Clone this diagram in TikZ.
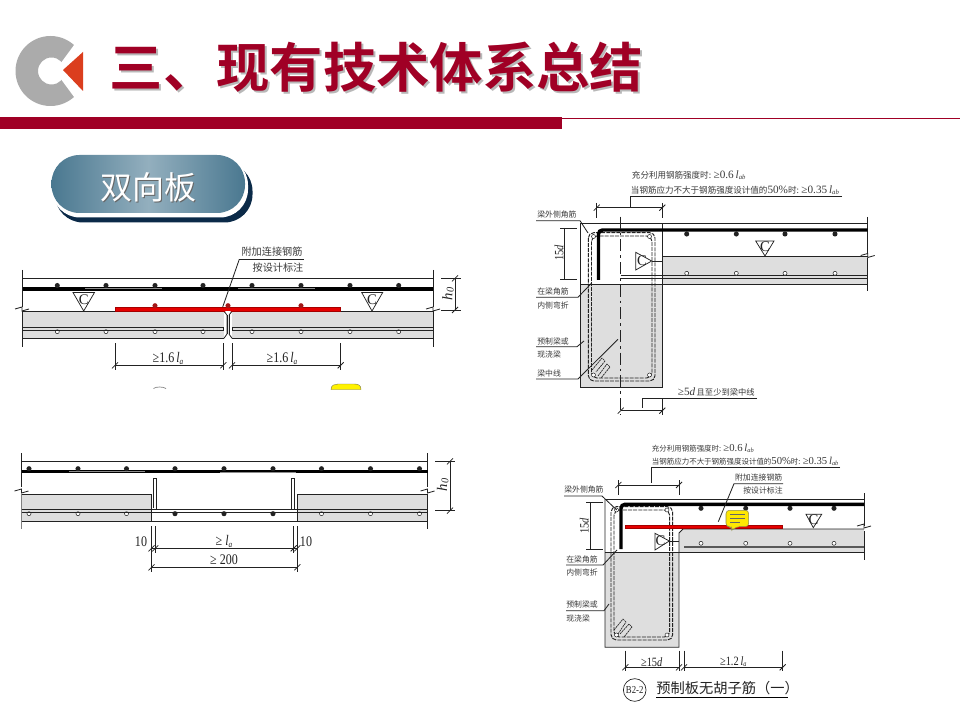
\documentclass[tikz,border=0pt]{standalone}
\usepackage{fontspec}
\setmainfont{Liberation Serif}
\newfontfamily\cjk{Noto Sans CJK SC}[BoldFont=* Bold]
\definecolor{brand}{HTML}{A00025}
\definecolor{slabgrey}{HTML}{DEDEDE}
\definecolor{ink}{HTML}{222222}
\definecolor{note}{HTML}{3A3A3A}
\definecolor{logogrey}{HTML}{ABABAB}
\definecolor{logored}{HTML}{DB3E1E}
\definecolor{navy}{HTML}{0B2A48}
\definecolor{pillout}{HTML}{4A7890}
\definecolor{pillin}{HTML}{93AFBE}
\newcommand{\la}{\textit{l}\raisebox{-.25ex}{\scalebox{.6}{\textit{a}}}}
\newcommand{\lab}{\textit{l}\raisebox{-.25ex}{\scalebox{.6}{\textit{ab}}}}
\newcommand{\nar}[1]{\scalebox{.82}[1]{#1}}
\newcommand{\Tk}[2]{\draw[dimln] (#1-3,#2+3)--(#1+3,#2-3);}
\newcommand{\Brk}[2]{\draw[thinln] (#1-7,#2)--(#1,#2-2)--(#1,#2+2)--(#1+7,#2);}
\newcommand{\Dim}[3]{\draw[dimln] (#1,#3)--(#2,#3); \Tk{#1}{#3} \Tk{#2}{#3}}
\tikzset{
  x=0.75pt,y=-0.75pt,
  thinln/.style={draw=ink,line width=.62pt},
  dimln/.style={draw=ink,line width=.55pt},
  heavy/.style={draw=black,line width=2.6pt},
  heavyred/.style={draw=black!35!red,fill=red!90!black,line width=.45pt},
  glint/.style={draw=white!55!black,line width=.35pt},
  rebar/.style={circle,fill=ink,draw=none,minimum size=3.8pt,inner sep=0},
  openbar/.style={circle,fill=white,draw=ink,line width=.38pt,minimum size=3pt,inner sep=0},
  redbar/.style={circle,fill=red!60!black!90!white,draw=none,minimum size=3.8pt,inner sep=0},
  stir/.style={draw=ink,line width=.7pt,dash pattern=on 3pt off .8pt,rounded corners=4pt},
  hookln/.style={draw=ink,line width=.5pt,dash pattern=on 1.6pt off .5pt},
  smallzh/.style={inner sep=0,text=note,font=\cjk\fontsize{5.9}{7}\selectfont},
  midzh/.style={inner sep=0,text=note,font=\cjk\fontsize{7.6}{9}\selectfont},
  latin/.style={inner sep=0,text=ink,font=\fontsize{11}{12}\selectfont},
  latins/.style={inner sep=0,text=ink,font=\fontsize{9.5}{10}\selectfont},
  tri/.style={draw=ink,fill=white,line width=.55pt},
  trilab/.style={inner sep=0,text=ink,font=\fontsize{11}{11}\selectfont},
}
\begin{document}
\begin{tikzpicture}
\useasboundingbox (0,0) rectangle (960,720);
\fill[white] (0,0) rectangle (960,720);

% ---------- header ----------
\fill[logogrey,even odd rule] (50.5,71) circle (35) (51.5,71) circle (13.5);
\fill[white] (55,71)--(80,37)--(100,37)--(100,105)--(80,105)--cycle;
\fill[logored] (63,70)--(83,52)--(83,91)--cycle;
\node[anchor=west,inner sep=0,text=black!28,font=\cjk\bfseries\fontsize{40}{44}\selectfont] (titleshadow) at (111.5,69.5) {三、现有技术体系总结};
\node[anchor=west,inner sep=0,text=brand,font=\cjk\bfseries\fontsize{40}{44}\selectfont] (title) at (109.5,67.5) {三、现有技术体系总结};
\fill[brand] (0,117) rectangle (562,129);
\draw[brand,line width=.6pt] (562,118)--(960,118);

% ---------- pill ----------
\fill[navy,rounded corners=21pt] (55,163) rectangle (252.5,222.5);
\fill[white,rounded corners=21pt] (52,157) rectangle (248,217.5);
\shade[left color=pillout,right color=pillout,middle color=pillin,rounded corners=21pt] (51.5,155) rectangle (245,213);
\node[inner sep=0,text=black!60,font=\cjk\fontsize{24}{28}\selectfont] (pillshadow) at (149,188.5) {双向板};
\node[inner sep=0,text=white,font=\cjk\fontsize{24}{28}\selectfont] (pill) at (148,187) {双向板};

% ---------- diagram 1 ----------
\fill[slabgrey] (22.5,311.3) rectangle (224,338.3);
\fill[slabgrey] (232,311.3) rectangle (433,338.3);
\draw[thinln] (22.5,270)--(22.5,307) (22.5,311)--(22.5,346.7);
\draw[thinln] (433,270)--(433,307) (433,311)--(433,346.7);
\draw[thinln] (22.5,278.3)--(433,278.3);
\draw[heavy] (22.5,289)--(433,289);
\draw[glint] (85,288)--(162,288) (238,288)--(315,288);
\foreach \px in {57.3,106,155,203,252,301,350,398.7} {
  \node[rebar] at (\px,285.5) {};
  \node[openbar] at (\px,331.7) {};
}
\draw[thinln] (22.5,311.3)--(224,311.3) (232,311.3)--(433,311.3);
\draw[thinln] (22.5,338.3)--(224,338.3) (232,338.3)--(433,338.3);
\draw[thinln] (22.5,327.3)--(223.3,327.3)--(223.3,330.3)--(22.5,330.3);
\draw[thinln] (433,327.3)--(232,327.3)--(232,330.3)--(433,330.3);
\draw[thinln] (224,311.3)--(227,315)--(227,334)--(224,338.3);
\draw[thinln] (232,311.3)--(229,315)--(229,334)--(232,338.3);
\fill[slabgrey] (227,315) rectangle (229,334);
\draw[thinln] (227,315)--(227,334) (229,315)--(229,334);
\Brk{22}{309}
\Brk{433}{309}
\draw[tri] (73,292.5)--(94.5,292.5)--(83.7,311)--cycle;
\draw[tri] (361.7,292.5)--(382.7,292.5)--(372,311)--cycle;
\node[trilab] (c1) at (83.7,299.5) {C};
\node[trilab] (c2) at (372,299.5) {C};
\draw[heavyred] (115,307.5) rectangle (340.7,310.8);
\foreach \px in {155,228,301} \node[redbar] at (\px,305.7) {};
\fill[white] (225,311)--(231,311)--(228,315)--cycle;
\draw[thinln] (239.3,259.3)--(304,259.3);
\draw[thinln] (239.3,259.3)--(222.7,307);
\node[midzh] (d1a) at (272,251.5) {附加连接钢筋};
\node[midzh] (d1b) at (278,268) {按设计标注};
\draw[dimln] (115,343)--(115,370) (223.3,343)--(223.3,370) (232,343)--(232,370) (340.7,343)--(340.7,370);
\Dim{115}{223.3}{365.3}
\Dim{232}{340.7}{365.3}
\node[latin] (d1c) at (168,358.5) {\nar{≥1.6\,\la}};
\node[latin] (d1d) at (282,358.5) {\nar{≥1.6\,\la}};
\draw[dimln] (441,278.3)--(461,278.3) (441,310)--(461,310);
\draw[dimln] (455,278.3)--(455,310);
\Tk{455}{278.3}
\Tk{455}{310}
\node[latin,rotate=90] (d1e) at (448,294) {\textit{h}\raisebox{-.2ex}{\scalebox{.7}{\textit{0}}}};
% cut-off remains at the bottom
\draw[gray,line width=.5pt] (153.5,388.5) .. controls (156,386.5) and (163,386.5) .. (166,388.5);
\fill[yellow,draw=yellow!40!black,line width=.3pt] (331,389.5) .. controls (331,385) and (335,384) .. (338,384) -- (354,384) .. controls (358,384) and (361,385) .. (361,389.5) -- cycle;

% ---------- diagram 2 ----------
\fill[slabgrey] (21.5,494.3) rectangle (151.5,521.3);
\fill[slabgrey] (297.3,494.3) rectangle (427.5,521.3);
\draw[line width=.9pt,draw=gray] (21.5,494.3)--(21.5,529.3);
\draw[thinln] (21.5,453)--(21.5,487) (427.5,453)--(427.5,487) (427.5,494)--(427.5,529.3);
\draw[thinln] (21.5,461.3)--(427.5,461.3);
\draw[heavy] (21.5,471.7)--(427.5,471.7);
\draw[glint] (69,471)--(145,471) (220,472)--(296,472);
\foreach \px in {29,78,126.5,175,224,273,321.5,370.5,419.5} \node[rebar] at (\px,468.7) {};
\foreach \px in {29,78,126.5,321.5,370.5,419.5} \node[openbar] at (\px,513.7) {};
\foreach \px in {175,224,273} \node[rebar] at (\px,513.7) {};
\draw[thinln] (21.5,494.3)--(151.5,494.3)--(151.5,521.3) (21.5,521.3)--(427.5,521.3) (297.3,521.3)--(297.3,494.3)--(427.5,494.3);
\draw[thinln] (21.5,509.3)--(427.5,509.3) (21.5,512.3)--(427.5,512.3);
\draw[thinln] (156.7,509.3)--(156.7,478.3)--(153.3,478.3)--(153.3,508) (291.3,509.3)--(291.3,478.3)--(294.7,478.3)--(294.7,509.3);
\Brk{21.5}{491}
\Brk{427.5}{491}
\draw[dimln] (151.5,526)--(151.5,572) (155.3,526)--(155.3,553) (293.7,526)--(293.7,553) (297.3,526)--(297.3,572);
\draw[dimln] (151.5,548.3)--(297.3,548.3);
\Tk{151.5}{548.3}\Tk{155.3}{548.3}\Tk{293.7}{548.3}\Tk{297.3}{548.3}
\Dim{151.5}{297.3}{567.3}
\node[latin] (d2a) at (141,541.5) {\nar{10}};
\node[latin] (d2b) at (224,541.5) {\nar{≥ \la}};
\node[latin] (d2c) at (306,541.5) {\nar{10}};
\node[latin] (d2d) at (224,560) {\nar{≥ 200}};
\draw[dimln] (435,461.3)--(455,461.3) (435,510.7)--(455,510.7);
\draw[dimln] (450,461.3)--(450,510.7);
\Tk{450}{461.3}\Tk{450}{510.7}
\node[latin,rotate=90] (d2e) at (442.7,485) {\textit{h}\raisebox{-.2ex}{\scalebox{.7}{\textit{0}}}};

% ---------- diagram 3 ----------
\fill[slabgrey] (662.3,256.7) rectangle (867.7,284);
\fill[slabgrey] (580,284) rectangle (662.3,387.7);
\draw[thinln] (580,387.7) rectangle (662.3,284);
\draw[thinln] (662.3,223.3)--(662.3,284);
\draw[thinln] (580,223.3)--(580,284);
\draw[thinln] (580,223.3)--(867.7,223.3);
\draw[thinln] (662.3,256.7)--(867.7,256.7) (580,284)--(867.7,284);
\draw[thinln] (867.7,217)--(867.7,254) (867.7,258)--(867.7,290.7);
\Brk{867.7}{255.5}
\draw[thinln] (620.7,275.7)--(867.7,275.7) (620.7,278.3)--(867.7,278.3);
\foreach \px in {686.7,736.3,785,835} {
  \node[rebar] at (\px,234) {};
  \node[openbar] at (\px,273.3) {};
}
\draw[stir] (588.3,232.7) rectangle (655,381);
\draw[stir] (591.5,236) rectangle (652,378);
\foreach \px/\py in {593.5/236.5,649.5/236.5,593.5/375,649.5/375} \node[openbar] at (\px,\py) {};
\draw[heavy,rounded corners=3pt] (867.7,230)--(598.5,230)--(598.5,280);
\draw[hookln] (592,370)--(602,358)--(605,361)--(596,372);
\draw[hookln] (598,376)--(607,364)--(610,367)--(601,378);
\draw[draw=ink,line width=.9pt,dash pattern=on 9pt off 3pt on 2pt off 3pt] (620.7,216.7)--(620.7,415);
\draw[tri] (635.7,252.3)--(635.7,270)--(651.7,261)--cycle;
\draw[thinln] (651.7,261)--(662.3,261);
\node[trilab] (c3) at (642,261) {C};
\draw[tri] (755.7,241)--(774,241)--(765,256)--cycle;
\node[trilab] (c4) at (765,246.5) {C};
\node[smallzh,font=\cjk\fontsize{6.4}{8}\selectfont,anchor=west] (d3a) at (631.7,175) {充分利用钢筋强度时: {\rmfamily\fontsize{8.4}{8}\selectfont ≥0.6\,\lab}};
\node[smallzh,font=\cjk\fontsize{6.4}{8}\selectfont,anchor=west] (d3b) at (630.7,190) {当钢筋应力不大于钢筋强度设计值的{\rmfamily\fontsize{8.4}{8}\selectfont 50\%}时: {\rmfamily\fontsize{8.4}{8}\selectfont ≥0.35\,\lab}};
\draw[thinln] (842,196.7)--(630,196.7)--(630,207.7);
\Dim{596.7}{662.3}{207.7}
\draw[dimln] (596.7,203)--(596.7,218) (662.3,203)--(662.3,218);
\node[smallzh,anchor=west] (d3c) at (537,215) {梁外侧角筋};
\draw[thinln] (536,220.7)--(580,220.7)--(588,233);
\draw[dimln] (560,228)--(577,228) (560,279.3)--(577,279.3) (564.3,228)--(564.3,279.3);
\node[latins,rotate=90] (d3d) at (559,253) {\nar{15\textit{d}}};
\node[smallzh,anchor=west] (d3e) at (537,291.7) {在梁角筋};
\node[smallzh,anchor=west] (d3f) at (537,305) {内侧弯折};
\draw[thinln] (536,297.3)--(578,297.3)--(591.7,283);
\node[smallzh,anchor=west] (d3g) at (537,341.7) {预制梁或};
\node[smallzh,anchor=west] (d3h) at (537,355) {现浇梁};
\draw[thinln] (536,346.7)--(577,346.7)--(584,341);
\node[smallzh,anchor=west] (d3i) at (537,373.3) {梁中线};
\draw[thinln] (536,379)--(578,379)--(618,339.3);
\node[smallzh,anchor=west,font=\cjk\fontsize{6.2}{8}\selectfont] (d3j) at (677.7,392.3) {{\rmfamily\fontsize{8.4}{8}\selectfont ≥5\textit{d}}\,且至少到梁中线};
\draw[thinln] (757,398.3)--(642.3,398.3)--(642.3,408.3);
\Dim{620.7}{662.3}{410.7}
\draw[dimln] (662.3,398)--(662.3,415);

% ---------- diagram 4 ----------
\fill[slabgrey] (683,529)--(864,529)--(864,552)--(679,552)--(679,533)--cycle;
\fill[slabgrey] (605,552) rectangle (679,647.3);
\draw[thinln] (605,499)--(605,647.3)--(679,647.3)--(679,533)--(683,529)--(864,529);
\draw[thinln] (605,499)--(864,499);
\draw[thinln] (605,552)--(864,552);
\draw[thinln] (864,493)--(864,526) (864,531)--(864,560);
\Brk{864}{526}
\draw[draw=gray!70!black,line width=1.6pt] (684,547)--(864,547);
\foreach \px in {701,745.7,790,834} {
  \node[rebar] at (\px,508.3) {};
  \node[openbar] at (\px,543.3) {};
}
\draw[stir] (611,506.7) rectangle (672.7,640);
\draw[stir] (614,510) rectangle (669.7,637);
\foreach \px/\py in {616.5/510,667/510,616.5/635,667/635} \node[openbar] at (\px,\py) {};
\draw[heavy,rounded corners=3pt] (864,504.3)--(621,504.3)--(621,549);
\draw[hookln] (614,630)--(623,619)--(626,622)--(618,634);
\draw[hookln] (620,634)--(629,624)--(632,627)--(624,637);
\draw[tri] (655,533.3)--(655,550)--(669.3,541)--cycle;
\draw[thinln] (669.3,541)--(679,541);
\node[trilab] (c5) at (660.5,541) {C};
\draw[tri] (806,514.3)--(821.7,514.3)--(813.3,527.7)--cycle;
\node[trilab] (c6) at (813.5,519.5) {C};
\draw[heavyred] (625.3,525) rectangle (782.7,528.3);
\draw[thinln] (783,483.7)--(734,483.7)--(718.3,521.7);
\node[smallzh,anchor=east] (d4a) at (782.5,477.7) {附加连接钢筋};
\node[smallzh] (d4b) at (763,491) {按设计标注};
\draw[fill=yellow!90!orange,draw=yellow!50!black,line width=.4pt,rounded corners=2.5pt] (726,510.3)--(748.7,510.3)--(748.7,526.7)--(736,526.7)--(731.7,531)--(731.7,526.7)--(726,526.7)--cycle;
\draw[draw=black!60,line width=.55pt] (730,514.5)--(744.5,514.5) (730,518.5)--(744.5,518.5) (730,522.5)--(740,522.5);
\node[smallzh,anchor=west,font=\cjk\fontsize{5.6}{8}\selectfont] (d4c) at (651.7,448.3) {充分利用钢筋强度时: {\rmfamily\fontsize{8}{8}\selectfont ≥0.6\,\lab}};
\node[smallzh,anchor=west,font=\cjk\fontsize{5.6}{8}\selectfont] (d4d) at (651.7,461.7) {当钢筋应力不大于钢筋强度设计值的{\rmfamily\fontsize{8}{8}\selectfont 50\%}时: {\rmfamily\fontsize{8}{8}\selectfont ≥0.35\,\lab}};
\draw[thinln] (840,467.7)--(651.7,467.7)--(651.7,483.3);
\Dim{618.3}{679}{485}
\draw[dimln] (618.3,480)--(618.3,495) (679,480)--(679,495);
\node[smallzh,anchor=west] (d4e) at (564,490) {梁外侧角筋};
\draw[thinln] (564,496)--(602,496)--(616.7,510);
\draw[dimln] (586,502.7)--(603,502.7) (586,549)--(603,549) (590.7,502.7)--(590.7,549);
\node[latins,rotate=90] (d4f) at (584.3,525.7) {\nar{15\textit{d}}};
\node[smallzh,anchor=west] (d4g) at (566,560) {在梁角筋};
\node[smallzh,anchor=west] (d4h) at (566,572.7) {内侧弯折};
\draw[thinln] (566,565)--(603,565)--(617,550);
\node[smallzh,anchor=west] (d4i) at (566,605) {预制梁或};
\node[smallzh,anchor=west] (d4j) at (566,618.3) {现浇梁};
\draw[thinln] (566,610.7)--(604,610.7)--(609,604);
\draw[dimln] (625.3,650.7)--(625.3,671) (679,650.7)--(679,671) (684,650.7)--(684,671) (782.7,650.7)--(782.7,671);
\Dim{625.3}{679}{667.3}
\Dim{684}{782.7}{667.3}
\node[latins] (d4k) at (651.7,661.7) {\nar{≥15\textit{d}}};
\node[latins] (d4l) at (733.3,661.7) {\nar{≥1.2\,\la}};
\node[circle,draw=ink,line width=.5pt,minimum size=17pt,inner sep=0,font=\fontsize{8}{8}\selectfont,text=ink] (b22) at (634.7,690) {\nar{B2-2}};
\node[inner sep=0,anchor=west,text=ink,font=\cjk\fontsize{10.7}{12}\selectfont] (d4m) at (656,688.3) {预制板无胡子筋（一）};
\draw[draw=black,line width=1.1pt] (656,697.7)--(788,697.7);
\end{tikzpicture}
\end{document}
